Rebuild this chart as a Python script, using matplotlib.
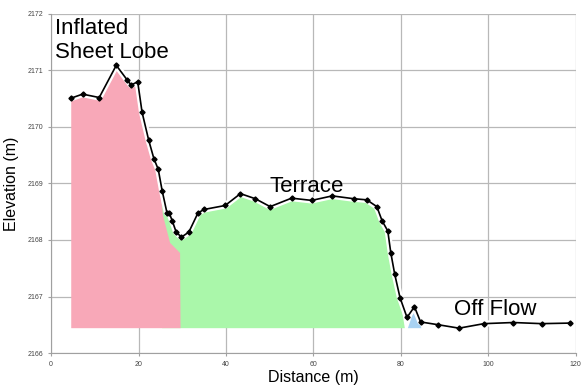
import matplotlib
matplotlib.use('Agg')
import matplotlib.pyplot as plt

plt.rcParams['font.family'] = ['Liberation Sans', 'DejaVu Sans']

# profile points (distance m, elevation m)
dist = [4.6, 7.2, 11.0, 14.9, 17.4, 18.3, 19.8, 20.8, 22.3, 23.5, 24.5, 25.4,
        26.5, 27.0, 27.7, 28.6, 29.8, 31.5, 33.6, 35.0, 39.8, 43.3, 46.7, 50.1,
        55.0, 59.6, 64.3, 69.2, 72.2, 74.5, 75.7, 77.0, 77.7, 78.6, 79.8, 81.4,
        83.1, 84.5, 88.6, 93.3, 99.0, 105.7, 112.2, 118.7]
elev = [2170.51, 2170.58, 2170.52, 2171.09, 2170.83, 2170.74, 2170.80, 2170.26,
        2169.77, 2169.44, 2169.25, 2168.87, 2168.48, 2168.48, 2168.34, 2168.14,
        2168.05, 2168.14, 2168.48, 2168.54, 2168.61, 2168.82, 2168.73, 2168.59,
        2168.74, 2168.70, 2168.78, 2168.73, 2168.71, 2168.59, 2168.34, 2168.16,
        2167.77, 2167.39, 2166.98, 2166.63, 2166.82, 2166.55, 2166.50, 2166.44,
        2166.52, 2166.54, 2166.52, 2166.53]

base = 2166.44

# unit boundaries
lobe_edge_x = [25.6, 27.2, 29.5, 29.6]
lobe_edge_y = [2168.43, 2167.95, 2167.77, base]
terrace_end_x = 80.9
off_x = [81.6, 83.1, 84.7]
off_y = [base, 2166.78, base]

pink = '#f8a8b8'
green = '#aaf7aa'
blue = '#a8d2f2'

fig = plt.figure(figsize=(5.81, 3.85), dpi=100)
ax = fig.add_axes([0.088, 0.083, 0.903, 0.881])

# terrace (green)
gx = [x for x in dist if 25.0 <= x <= 80.0]
gy = [y for x, y in zip(dist, elev) if 25.0 <= x <= 80.0]
gx = gx + [terrace_end_x, gx[0]]
gy = gy + [base, base]
ax.fill(gx, gy, color=green, lw=0, zorder=2)

# sheet lobe (pink)
px = [x for x in dist if x <= 25.0] + lobe_edge_x + [dist[0]]
py = [y for x, y in zip(dist, elev) if x <= 25.0] + lobe_edge_y + [base]
ax.fill(px, py, color=pink, lw=0, zorder=3)

# off flow (blue)
ax.fill(off_x, off_y, color=blue, lw=0, zorder=2)

# white halo under the profile line, then the line itself
ax.plot(dist, elev, color='white', lw=4.5, zorder=4, solid_joinstyle='round')
ax.plot(dist, elev, color='black', lw=1.2, marker='D', ms=2.6, zorder=5)

ax.set_xlim(0, 120)
ax.set_ylim(2166, 2172)
ax.set_xticks([0, 20, 40, 60, 80, 100, 120])
ax.set_yticks([2166, 2167, 2168, 2169, 2170, 2171, 2172])
ax.grid(True, color='#b8b8b8', lw=0.9)
ax.set_axisbelow(True)
for s in ['top', 'right']:
    ax.spines[s].set_visible(False)
for s in ['left', 'bottom']:
    ax.spines[s].set_color('#a0a0a0')
ax.tick_params(labelsize=5, colors='#a0a0a0', labelcolor='#444444', length=2, width=0.8)
ax.tick_params(axis='x', pad=4)

ax.set_xlabel('Distance (m)', fontsize=11.5, labelpad=1)
ax.set_ylabel('Elevation (m)', fontsize=11.5, labelpad=6)

ax.text(0.8, 2171.93, 'Inflated\nSheet Lobe', fontsize=16, va='top', ha='left',
        linespacing=1.2, zorder=6)
ax.text(58.5, 2168.85, 'Terrace', fontsize=16, ha='center', va='baseline', zorder=6)
ax.text(101.6, 2166.68, 'Off Flow', fontsize=16, ha='center', va='baseline', zorder=6)

plt.savefig('out.png', dpi=100)
